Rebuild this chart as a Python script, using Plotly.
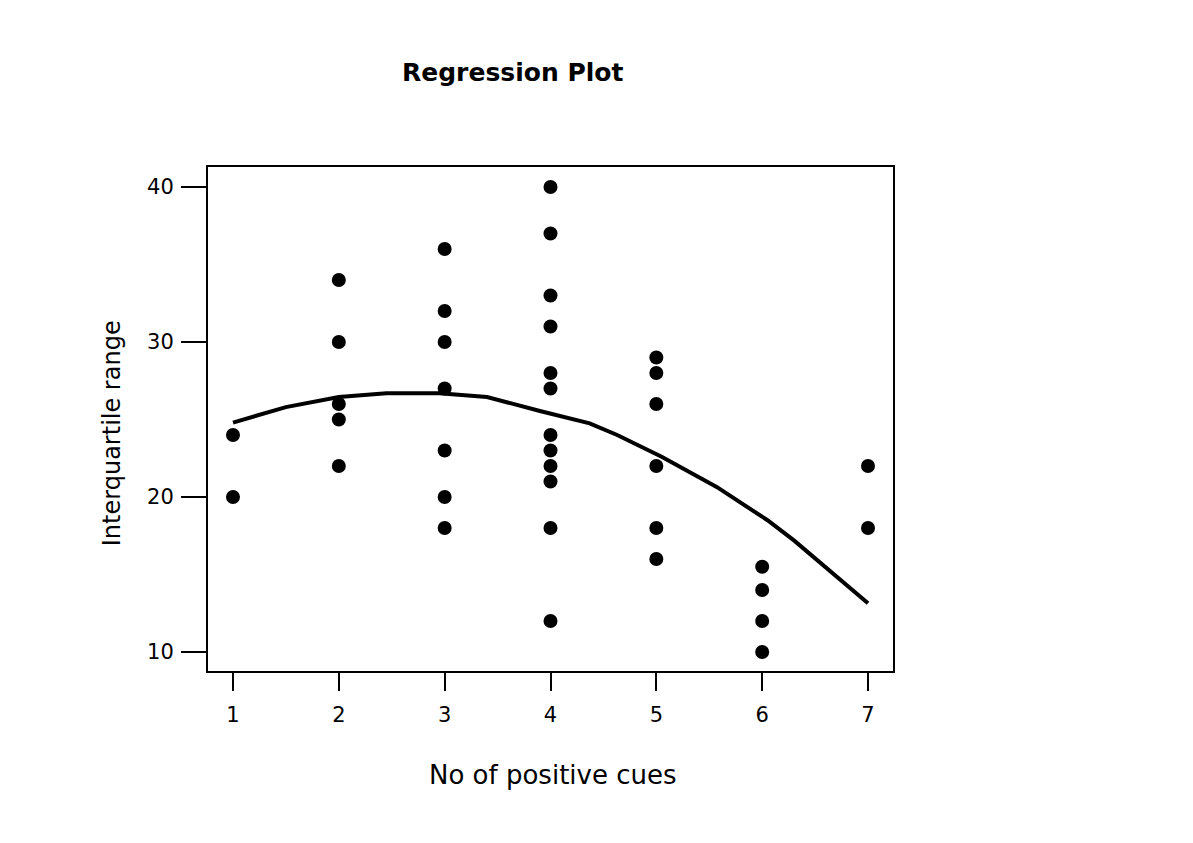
import plotly.graph_objects as go

# Observed data (No of positive cues vs Interquartile range)
cues = [1, 1,
        2, 2, 2, 2, 2,
        3, 3, 3, 3, 3, 3, 3,
        4, 4, 4, 4, 4, 4, 4, 4, 4, 4, 4, 4,
        5, 5, 5, 5, 5, 5,
        6, 6, 6, 6,
        7, 7]
iqr = [24, 20,
       34, 30, 26, 25, 22,
       36, 32, 30, 27, 23, 20, 18,
       40, 37, 33, 31, 28, 27, 24, 23, 22, 21, 18, 12,
       29, 28, 26, 22, 18, 16,
       15.5, 14, 12, 10,
       22, 18]

# Fitted regression curve at its vertices
fit_x = [1.0, 1.5, 2.0, 2.45, 2.95, 3.4, 3.9, 4.37, 4.63, 5.05, 5.57, 6.05, 6.3, 6.52, 7.0]
fit_y = [24.8, 25.8, 26.45, 26.7, 26.7, 26.45, 25.55, 24.75, 24.0, 22.6, 20.65, 18.5, 17.2, 15.95, 13.15]

x_ticks = [1, 2, 3, 4, 5, 6, 7]
y_ticks = [10, 20, 30, 40]

fig = go.Figure()
fig.add_trace(go.Scatter(x=fit_x, y=fit_y, mode="lines",
                         line=dict(color="black", width=4), hoverinfo="skip",
                         showlegend=False))
fig.add_trace(go.Scatter(x=cues, y=iqr, mode="markers",
                         marker=dict(color="black", size=14), showlegend=False))

tickfont = dict(family="DejaVu Sans", size=21, color="black")
fig.update_layout(
    width=1193, height=843,
    margin=dict(l=200, r=308, t=159, b=180),
    paper_bgcolor="white", plot_bgcolor="white",
    xaxis=dict(range=[0.764, 7.236], tickvals=x_ticks, ticks="outside", ticklen=18,
               tickwidth=2, tickcolor="black", showline=True, linewidth=2,
               linecolor="black", mirror=True, showgrid=False, zeroline=False,
               tickfont=tickfont, ticklabelstandoff=6),
    yaxis=dict(range=[8.774, 41.29], tickvals=y_ticks, ticks="outside", ticklen=25,
               tickwidth=2, tickcolor="black", showline=True, linewidth=2,
               linecolor="black", mirror=True, showgrid=False, zeroline=False,
               tickfont=tickfont, ticklabelstandoff=3),
    annotations=[
        dict(text="<b>Regression Plot</b>", xref="paper", yref="paper",
             x=0.444, y=1.188, xanchor="center", yanchor="middle", showarrow=False,
             font=dict(family="DejaVu Sans", size=25, color="black")),
        dict(text="No of positive cues", xref="paper", yref="paper",
             x=0.504, y=-0.206, xanchor="center", yanchor="middle", showarrow=False,
             font=dict(family="DejaVu Sans", size=26, color="black")),
        dict(text="Interquartile range", xref="paper", yref="paper",
             x=-0.140, y=0.472, xanchor="center", yanchor="middle", showarrow=False,
             textangle=-90,
             font=dict(family="DejaVu Sans", size=24, color="black")),
    ],
)

fig.write_html("out.html")
